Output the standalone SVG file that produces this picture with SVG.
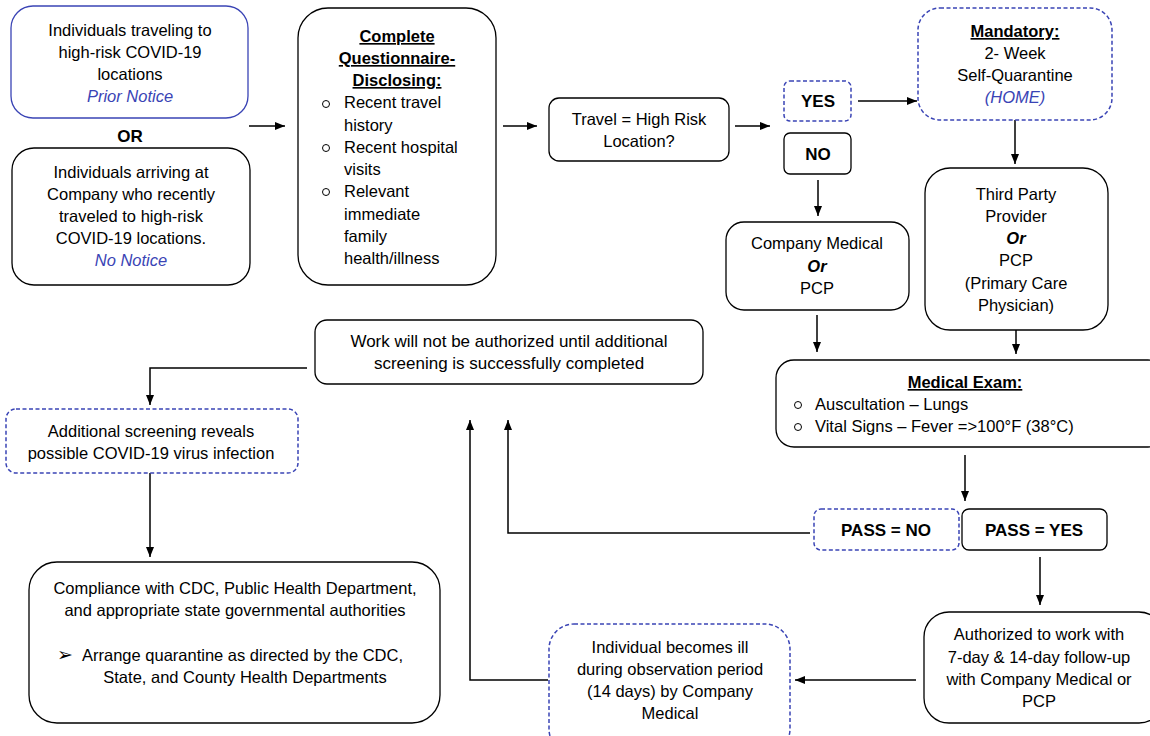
<svg xmlns="http://www.w3.org/2000/svg" width="1150" height="736" viewBox="0 0 1150 736">
<defs>
<marker id="ah" viewBox="0 0 10 10" refX="10" refY="5" markerWidth="10" markerHeight="10" markerUnits="userSpaceOnUse" orient="auto">
<path d="M0,1 L10,5 L0,9 z" fill="#000"/>
</marker>
<style>
.box{fill:#fff;stroke:#000;stroke-width:1.3}
.bbox{fill:#fff;stroke:#3a44b5;stroke-width:1.3}
.dbox{fill:#fff;stroke:#3a44b5;stroke-width:1.5;stroke-dasharray:4 2.5}
text{font-family:"Liberation Sans",Arial,sans-serif;font-size:16.5px;fill:#000}
.c{text-anchor:middle}
.b{font-weight:bold}
.u{text-decoration:underline}
.i{font-style:italic;fill:#3a44b5}
.bi{font-weight:bold;font-style:italic}
.w{font-size:17px}
.con{fill:none;stroke:#000;stroke-width:1.5}
.bul{fill:none;stroke:#000;stroke-width:1}
</style>
</defs>
<rect width="1150" height="736" fill="#fff"/>

<g id="connectors">
<line class="con" x1="249" y1="126" x2="285" y2="126" marker-end="url(#ah)"/>
<line class="con" x1="503" y1="126" x2="537" y2="126" marker-end="url(#ah)"/>
<line class="con" x1="735" y1="126" x2="770" y2="126" marker-end="url(#ah)"/>
<line class="con" x1="858" y1="101" x2="917" y2="101" marker-end="url(#ah)"/>
<line class="con" x1="1015" y1="120" x2="1015" y2="164" marker-end="url(#ah)"/>
<line class="con" x1="818" y1="180" x2="818" y2="216" marker-end="url(#ah)"/>
<line class="con" x1="817" y1="315" x2="817" y2="352" marker-end="url(#ah)"/>
<line class="con" x1="1016" y1="330" x2="1016" y2="354" marker-end="url(#ah)"/>
<line class="con" x1="965" y1="455" x2="965" y2="501" marker-end="url(#ah)"/>
<polyline class="con" points="810,533 508,533 508,420" marker-end="url(#ah)"/>
<polyline class="con" points="548,680 470,680 470,420" marker-end="url(#ah)"/>
<polyline class="con" points="307,368 150,368 150,405" marker-end="url(#ah)"/>
<line class="con" x1="150" y1="473" x2="150" y2="557" marker-end="url(#ah)"/>
<line class="con" x1="1040" y1="557" x2="1040" y2="605" marker-end="url(#ah)"/>
<line class="con" x1="916" y1="680" x2="795" y2="680" marker-end="url(#ah)"/>
</g>

<g id="prior-notice">
<rect class="bbox" x="11" y="6" width="237" height="112" rx="22"/>
<text class="c" x="130" y="36">Individuals traveling to</text>
<text class="c" x="130" y="58">high-risk COVID-19</text>
<text class="c" x="130" y="80">locations</text>
<text class="c i" x="130" y="102">Prior Notice</text>
</g>

<g id="or-label">
<text class="c b" x="130" y="142" style="font-size:17px">OR</text>
</g>

<g id="no-notice">
<rect class="box" x="12" y="148" width="238" height="137" rx="22"/>
<text class="c" x="131" y="178">Individuals arriving at</text>
<text class="c" x="131" y="200">Company who recently</text>
<text class="c" x="131" y="222">traveled to high-risk</text>
<text class="c" x="131" y="244">COVID-19 locations.</text>
<text class="c i" x="131" y="266">No Notice</text>
</g>

<g id="questionnaire">
<rect class="box" x="298" y="8" width="198" height="277" rx="30"/>
<text class="c b u" x="397" y="42">Complete</text>
<text class="c b u" x="397" y="64">Questionnaire-</text>
<text class="c b u" x="397" y="86">Disclosing:</text>
<circle class="bul" cx="326" cy="104" r="3.5"/>
<circle class="bul" cx="326" cy="148" r="3.5"/>
<circle class="bul" cx="326" cy="192" r="3.5"/>
<text x="344" y="108">Recent travel</text>
<text x="344" y="131">history</text>
<text x="344" y="153">Recent hospital</text>
<text x="344" y="175">visits</text>
<text x="344" y="197">Relevant</text>
<text x="344" y="220">immediate</text>
<text x="344" y="242">family</text>
<text x="344" y="264">health/illness</text>
</g>

<g id="travel-decision">
<rect class="box" x="549" y="98" width="180" height="63" rx="10"/>
<text class="c" x="639" y="125">Travel = High Risk</text>
<text class="c" x="639" y="147">Location?</text>
</g>

<g id="yes">
<rect class="dbox" x="784" y="81" width="67" height="40" rx="6"/>
<text class="c b" x="818" y="107" style="font-size:17px">YES</text>
</g>

<g id="no">
<rect class="box" x="784" y="133" width="67" height="41" rx="6"/>
<text class="c b" x="818" y="160" style="font-size:17px">NO</text>
</g>

<g id="mandatory">
<rect class="dbox" x="918" y="8" width="194" height="112" rx="22"/>
<text class="c b u" x="1015" y="37">Mandatory:</text>
<text class="c" x="1015" y="59">2- Week</text>
<text class="c" x="1015" y="81">Self-Quarantine</text>
<text class="c i" x="1015" y="103">(HOME)</text>
</g>

<g id="third-party">
<rect class="box" x="925" y="168" width="183" height="162" rx="25"/>
<text class="c" x="1016" y="200">Third Party</text>
<text class="c" x="1016" y="222">Provider</text>
<text class="c bi" x="1016" y="244">Or</text>
<text class="c" x="1016" y="266">PCP</text>
<text class="c" x="1016" y="289">(Primary Care</text>
<text class="c" x="1016" y="311">Physician)</text>
</g>

<g id="company-medical">
<rect class="box" x="726" y="222" width="183" height="88" rx="18"/>
<text class="c" x="817" y="249">Company Medical</text>
<text class="c bi" x="817" y="272">Or</text>
<text class="c" x="817" y="294">PCP</text>
</g>

<g id="medical-exam">
<rect class="box" x="776" y="360" width="390" height="87" rx="18"/>
<text class="c b u" x="965" y="388">Medical Exam:</text>
<circle class="bul" cx="798" cy="405" r="3.5"/>
<circle class="bul" cx="798" cy="427" r="3.5"/>
<text x="815" y="410">Auscultation – Lungs</text>
<text x="815" y="432">Vital Signs – Fever =&gt;100°F (38°C)</text>
</g>

<g id="pass-no">
<rect class="dbox" x="814" y="509" width="145" height="41" rx="7"/>
<text class="c b" x="886" y="536" style="font-size:17px">PASS = NO</text>
</g>

<g id="pass-yes">
<rect class="box" x="962" y="509" width="145" height="41" rx="7"/>
<text class="c b" x="1034" y="536" style="font-size:17px">PASS = YES</text>
</g>

<g id="work-not-authorized">
<rect class="box" x="315" y="320" width="388" height="64" rx="12"/>
<text class="c w" x="509" y="347">Work will not be authorized until additional</text>
<text class="c w" x="509" y="369">screening is successfully completed</text>
</g>

<g id="additional-screening">
<rect class="dbox" x="6" y="409" width="292" height="64" rx="10"/>
<text class="c" x="151" y="437">Additional screening reveals</text>
<text class="c" x="151" y="459">possible COVID-19 virus infection</text>
</g>

<g id="compliance">
<rect class="box" x="29" y="562" width="411" height="161" rx="28"/>
<text class="c" x="235" y="594">Compliance with CDC, Public Health Department,</text>
<text class="c" x="235" y="616">and appropriate state governmental authorities</text>
<text x="57" y="661" style="font-size:19px">➢</text>
<text x="82" y="661">Arrange quarantine as directed by the  CDC,</text>
<text class="c" x="245" y="683">State, and County Health Departments</text>
</g>

<g id="authorized">
<rect class="box" x="924" y="612" width="240" height="111" rx="25"/>
<text class="c" x="1039" y="640">Authorized to work with</text>
<text class="c" x="1039" y="663">7-day &amp; 14-day follow-up</text>
<text class="c" x="1039" y="685">with Company Medical or</text>
<text class="c" x="1039" y="707">PCP</text>
</g>

<g id="becomes-ill">
<rect class="dbox" x="549" y="624" width="241" height="130" rx="25"/>
<text class="c" x="670" y="653">Individual becomes ill</text>
<text class="c" x="670" y="675">during observation period</text>
<text class="c" x="670" y="697">(14 days) by Company</text>
<text class="c" x="670" y="719">Medical</text>
</g>
</svg>
